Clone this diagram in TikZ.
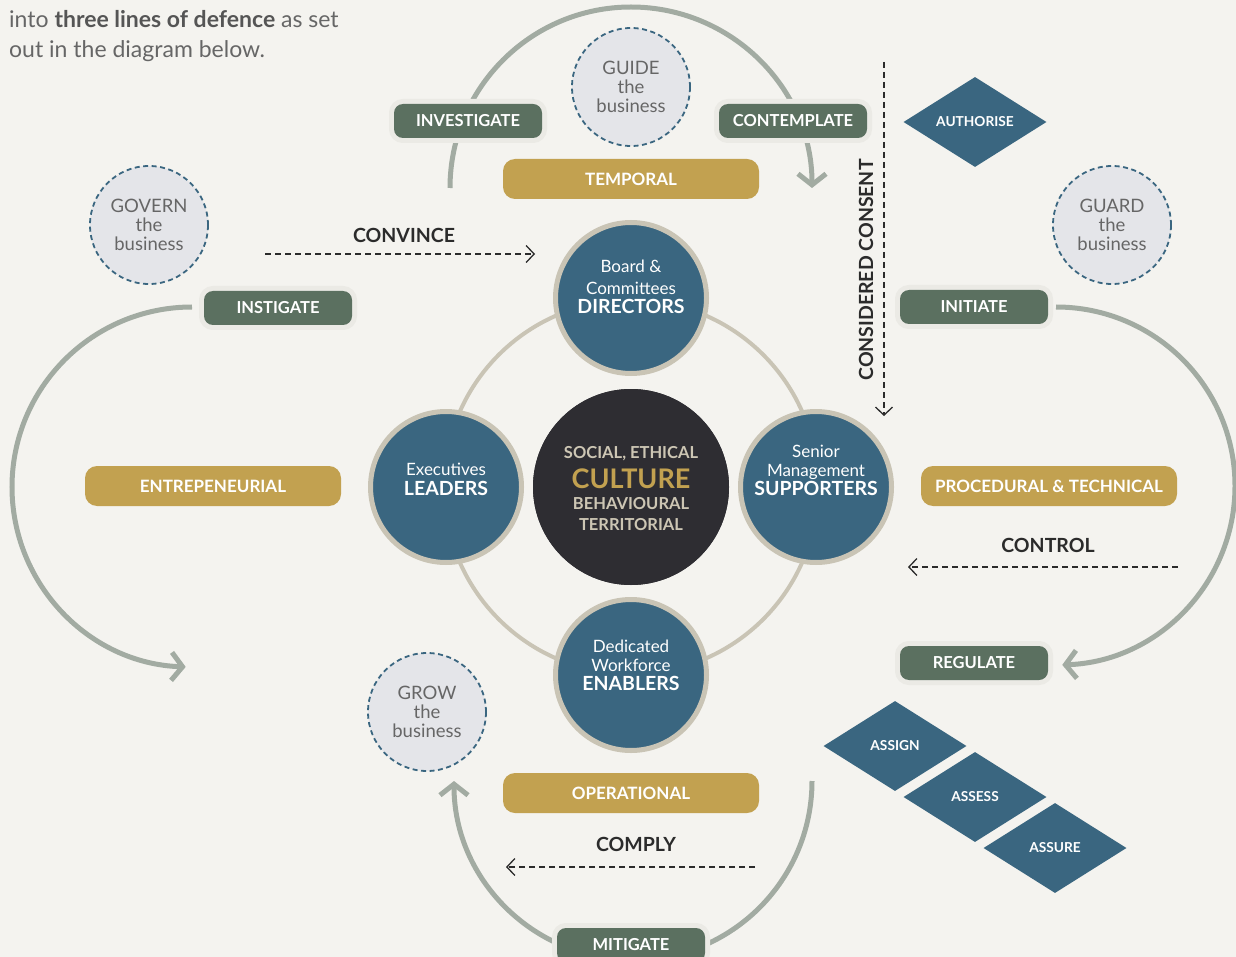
\documentclass[tikz,border=0pt]{standalone}
\usepackage{fontspec}
\setmainfont{Lato}
\usepackage{tikz}
\usetikzlibrary{shapes.geometric, arrows.meta, calc}
\definecolor{paper}{RGB}{244,243,239}
\definecolor{halo}{RGB}{235,234,229}
\definecolor{sage}{RGB}{91,112,96}
\definecolor{ochre}{RGB}{194,161,80}
\definecolor{steel}{RGB}{58,102,128}
\definecolor{stone}{RGB}{201,196,181}
\definecolor{coal}{RGB}{46,45,50}
\definecolor{sand}{RGB}{205,198,180}
\definecolor{lichen}{RGB}{162,171,162}
\definecolor{mist}{RGB}{228,229,233}
\definecolor{slate}{RGB}{102,102,102}
\definecolor{ink}{RGB}{43,43,43}

\begin{document}
\begin{tikzpicture}[x=1pt, y=-1pt,
  every node/.style={inner sep=0pt, align=center},
  act/.style={fill=sage, rounded corners=9pt, minimum width=148pt, minimum height=34pt,
    text=white, font=\fontsize{16.5}{18}\selectfont\bfseries,
    preaction={draw=halo, line width=10pt}},
  realm/.style={fill=ochre, rounded corners=12pt, minimum width=256pt, minimum height=40pt,
    text=white, font=\fontsize{17}{18}\selectfont\bfseries},
  role/.style={circle, fill=steel, draw=stone, line width=5pt, minimum size=151pt},
  roletext/.style={anchor=north, text=white, font=\fontsize{17}{21}\selectfont},
  mind/.style={circle, fill=mist, draw=steel, line width=1.8pt, dash pattern=on 5pt off 3.5pt,
    minimum size=118pt, text=slate, font=\fontsize{18.5}{19}\selectfont},
  duty/.style={diamond, fill=steel, minimum width=143pt, minimum height=90pt,
    text=white, font=\fontsize{13.7}{14}\selectfont\bfseries},
  cue/.style={text=ink, font=\fontsize{19.5}{20}\selectfont\bfseries},
  sweep/.style={draw=lichen, line width=5pt, -{Straight Barb[length=11pt,width=28pt]}},
  hint/.style={draw=ink, line width=1.1pt, dash pattern=on 6pt off 4pt,
    -{Straight Barb[length=8pt,width=17pt,line width=1.3pt]}}]

\useasboundingbox (0,0) rectangle (1236,957);
\fill[paper] (0,0) rectangle (1236,957);
\clip (0,0) rectangle (1236,957);

% intro text
\node (intro1)[anchor=base west, text=slate, font=\fontsize{23}{30}\selectfont] at (9,28)
  {into \textbf{\color{ink!80}three lines of defence} as set};
\node (intro2)[anchor=base west, text=slate, font=\fontsize{23}{30}\selectfont] at (9,58)
  {out in the diagram below.};

% ring behind the four roles
\node (cult)[circle, fill=coal, minimum size=196pt] at (631,487) {};
\draw[stone, line width=4pt] (cult.center) circle (187pt);
\fill[coal] (cult.center) circle (98pt);

% the four sweeping arrows
\coordinate (topc) at (631,188);
\coordinate (leftc) at (192,487);
\coordinate (rightc) at (1056,486);
\coordinate (botc) at (633,781);
\draw[sweep] ($(topc)+(-181,0)$) arc[start angle=180, end angle=0, radius=181pt];
\draw[sweep] ($(leftc)+(0,-180)$) arc[start angle=90, end angle=268, radius=180pt];
\draw[sweep] ($(rightc)+(0,-179)$) arc[start angle=90, end angle=-88, radius=179pt];
\draw[sweep] ($(botc)+(179,0)$) arc[start angle=0, end angle=-180, radius=179pt];

% roles
\node (dir)[role] at (631,298) {};
\node (lead)[role] at (446,487) {};
\node (supp)[role] at (816,487) {};
\node (enab)[role] at (631,675) {};
\node (dirtxt)[roletext] at (631,260) {Board \&\\[1pt]Committees\\[-2pt]{\fontsize{19.5}{19}\selectfont\bfseries DIRECTORS}};
\node (leadtxt)[roletext] at (446,463) {Executives\\[-1pt]{\fontsize{19.5}{19}\selectfont\bfseries LEADERS}};
\node (supptxt)[roletext] at (816,445) {Senior\\[-2pt]Management\\[-2pt]{\fontsize{19.5}{19}\selectfont\bfseries SUPPORTERS}};
\node (enabtxt)[roletext] at (631,640) {Dedicated\\[-2pt]Workforce\\[-2pt]{\fontsize{19.5}{19}\selectfont\bfseries ENABLERS}};
\node (culttxt)[anchor=north, text=sand, font=\fontsize{16.5}{21}\selectfont\bfseries] at (631,446)
  {SOCIAL, ETHICAL\\[7.5pt]
   {\fontsize{27}{24}\selectfont\color{ochre} CULTURE}\\
   BEHAVIOURAL\\
   TERRITORIAL};

% the business
\node (guide)[mind] at (631,87) {GUIDE\\the\\business};
\node (govern)[mind] at (149,225) {GOVERN\\the\\business};
\node (guard)[mind] at (1112,225) {GUARD\\the\\business};
\node (grow)[mind] at (427,712) {GROW\\the\\business};

% actions
\node (investigate)[act] at (468,121) {INVESTIGATE};
\node (contemplate)[act] at (793,121) {CONTEMPLATE};
\node (instigate)[act] at (278,308) {INSTIGATE};
\node (initiate)[act] at (974,307) {INITIATE};
\node (regulate)[act] at (974,663) {REGULATE};
\node (mitigate)[act] at (631,945) {MITIGATE};

% realms
\node (temporal)[realm] at (631,179) {TEMPORAL};
\node (entre)[realm] at (213,486) {ENTREPENEURIAL};
\node (proc)[realm] at (1049,486) {PROCEDURAL \& TECHNICAL};
\node (oper)[realm] at (631,793) {OPERATIONAL};

% duties
\node (authorise)[duty] at (975,122) {AUTHORISE};
\node (assign)[duty] at (895,746) {ASSIGN};
\node (assess)[duty] at (975,797) {ASSESS};
\node (assure)[duty] at (1055,848) {ASSURE};

% influence lines
\node (convince)[cue] at (404,235) {CONVINCE};
\node (consent)[cue, rotate=90] at (866,270) {CONSIDERED CONSENT};
\node (control)[cue] at (1048,545) {CONTROL};
\node (comply)[cue] at (636,844) {COMPLY};
\coordinate (convince-a) at (265,254);
\coordinate (convince-b) at (535,254);
\coordinate (consent-a) at (884,62);
\coordinate (consent-b) at (884,416);
\coordinate (control-a) at (1178,567);
\coordinate (control-b) at (908,567);
\coordinate (comply-a) at (755,867);
\coordinate (comply-b) at (506,867);
\draw[hint] (convince-a) -- (convince-b);
\draw[hint] (consent-a) -- (consent-b);
\draw[hint] (control-a) -- (control-b);
\draw[hint] (comply-a) -- (comply-b);
\end{tikzpicture}
\end{document}
